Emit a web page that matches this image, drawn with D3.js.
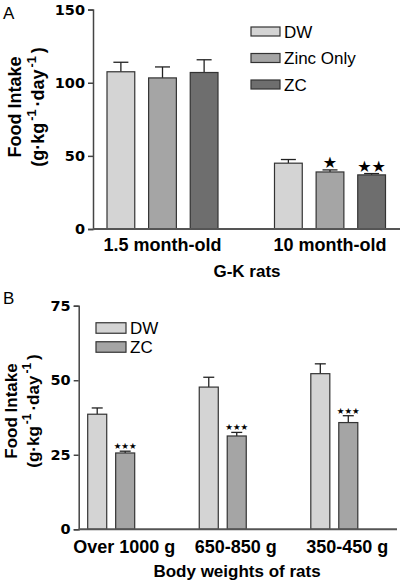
<!DOCTYPE html>
<html><head><meta charset="utf-8">
<script src="https://cdn.jsdelivr.net/npm/d3@7"></script>
<style>
body{margin:0;background:#fff;}
svg{display:block;}
text{font-family:"Liberation Sans",Arial,sans-serif;fill:#000;}
</style></head>
<body><svg id="c" width="401" height="582"></svg>
<script>
// ---------- Data: Panel A ----------
const groupsA = ["1.5 month-old", "10 month-old"];
const seriesA = ["DW", "Zinc Only", "ZC"];
const meanA = { "DW": [107.5, 45], "Zinc Only": [103.3, 39], "ZC": [107, 37] };
const errA  = { "DW": [6.5, 2.5], "Zinc Only": [7.5, 1.4], "ZC": [8.7, 0.9] };
const sigA  = { "DW": ["", ""], "Zinc Only": ["", "★"], "ZC": ["", "★★"] };
const ticksA = [0, 50, 100, 150];
const xTitleA = "G-K rats";

// ---------- Data: Panel B ----------
const groupsB = ["Over 1000 g", "650-850 g", "350-450 g"];
const seriesB = ["DW", "ZC"];
const meanB = { "DW": [38.6, 47.7, 52.2], "ZC": [25.6, 31.3, 35.8] };
const errB  = { "DW": [2.1, 3.3, 3.3], "ZC": [0.6, 1.2, 2.3] };
const sigB  = { "DW": ["", "", ""], "ZC": ["★★★", "★★★", "★★★"] };
const ticksB = [0, 25, 50, 75];
const xTitleB = "Body weights of rats";

const colA = { "DW": "#d4d4d4", "Zinc Only": "#a5a5a5", "ZC": "#6e6e6e" };
const colB = { "DW": "#d4d4d4", "ZC": "#a5a5a5" };

const svg = d3.select("#c");

function yTitle(g, cx, cy, size) {
  const t = g.append("text").attr("transform", `translate(${cx},${cy}) rotate(-90)`)
    .attr("text-anchor", "middle").style("font-weight", "bold").style("font-size", size + "px");
  t.append("tspan").attr("x", 0).attr("dy", 0).text("Food Intake");
  const t2 = t.append("tspan").attr("x", 0).attr("dy", size * 1.3);
  const ss = size * 0.7;
  t2.append("tspan").text("(g·kg");
  t2.append("tspan").attr("dx", 2).attr("dy", -size * 0.45).style("font-size", ss + "px").text("-1");
  t2.append("tspan").attr("dx", 3).attr("dy", size * 0.45).text("·day");
  t2.append("tspan").attr("dx", 2).attr("dy", -size * 0.45).style("font-size", ss + "px").text("-1");
  t2.append("tspan").attr("dx", 3).attr("dy", size * 0.45).text(")");
}

function panel(opt) {
  const g = svg.append("g");
  const y = d3.scaleLinear().domain(opt.ydom).range([opt.y0, opt.y1]);
  const x = d3.scalePoint().domain(opt.groups).range(opt.xr);
  const xi = d3.scaleBand().domain(opt.series).range([-opt.gw / 2, opt.gw / 2]).paddingInner(opt.pin).paddingOuter(0);

  // bars
  opt.series.forEach(s => {
    opt.groups.forEach((grp, i) => {
      const bx = x(grp) + xi(s), bw = xi.bandwidth();
      const v = opt.mean[s][i], e = opt.err[s][i];
      const cx = bx + bw / 2;
      g.append("line").attr("x1", cx).attr("x2", cx).attr("y1", y(v)).attr("y2", y(v + e))
        .attr("stroke", "#222").attr("stroke-width", 1.3);
      g.append("line").attr("x1", cx - opt.cap / 2).attr("x2", cx + opt.cap / 2).attr("y1", y(v + e)).attr("y2", y(v + e))
        .attr("stroke", "#222").attr("stroke-width", 1.3);
      g.append("rect").attr("x", bx).attr("y", y(v)).attr("width", bw).attr("height", y(0) - y(v))
        .attr("fill", opt.col[s]).attr("stroke", "#333").attr("stroke-width", 1.2);
      const sg = opt.sig[s][i];
      if (sg) {
        g.append("text").attr("x", cx).attr("y", y(v + e) - 2).attr("text-anchor", "middle")
          .style("font-family", "DejaVu Sans").style("font-size", opt.starSize + "px").text(sg);
      }
    });
  });

  // y axis
  const ya = g.append("g").attr("transform", `translate(${opt.xAxis},0)`)
    .call(d3.axisLeft(y).tickValues(opt.ticks).tickSize(5).tickPadding(3).tickFormat(d3.format("d")));
  ya.select(".domain").attr("stroke", "#444").attr("stroke-width", 1.5);
  ya.selectAll(".tick line").attr("stroke", "#444").attr("stroke-width", 1.5);
  ya.selectAll(".tick text").style("font-family", "DejaVu Sans").style("font-weight", "bold")
    .style("font-size", opt.tickSize + "px").attr("fill", "#000");

  // x axis line
  g.append("line").attr("x1", opt.xAxis).attr("x2", opt.xEnd).attr("y1", y(0)).attr("y2", y(0))
    .attr("stroke", "#555").attr("stroke-width", 2);

  // group labels
  opt.groups.forEach(grp => {
    g.append("text").attr("x", x(grp) + opt.labOff).attr("y", opt.labY).attr("text-anchor", "middle")
      .style("font-weight", "bold").style("font-size", "18px").text(grp);
  });
  g.append("text").attr("x", opt.titleX).attr("y", opt.titleY).attr("text-anchor", "middle")
    .style("font-weight", "bold").style("font-size", "17px").text(opt.xTitle);

  yTitle(g, opt.ytx, opt.yty, opt.ytSize);

  // legend
  opt.series.forEach((s, i) => {
    const ly = opt.legY + i * opt.legStep;
    g.append("rect").attr("x", opt.legX).attr("y", ly - opt.legH / 2).attr("width", opt.legW).attr("height", opt.legH)
      .attr("fill", opt.col[s]).attr("stroke", "#333").attr("stroke-width", 1.2);
    g.append("text").attr("x", opt.legX + opt.legW + 4).attr("y", ly + 6)
      .style("font-size", "17px").text(s);
  });

  g.append("text").attr("x", opt.letX).attr("y", opt.letY).style("font-size", "17px").text(opt.letter);
}

panel({
  groups: groupsA, series: seriesA, mean: meanA, err: errA, sig: sigA, col: colA,
  ydom: [0, 150], y0: 229, y1: 9.6, xr: [162.5, 330], gw: 111, pin: 0.333, cap: 15,
  ticks: ticksA, xAxis: 93, xEnd: 400, tickSize: 14.5, starSize: 16,
  labOff: 0, labY: 251, titleX: 247, titleY: 277, xTitle: xTitleA,
  ytx: 21, yty: 107, ytSize: 18,
  legX: 251, legY: 31.5, legStep: 26.5, legW: 29, legH: 9,
  letter: "A", letX: 3, letY: 19
});

panel({
  groups: groupsB, series: seriesB, mean: meanB, err: errB, sig: sigB, col: colB,
  ydom: [0, 75], y0: 529.3, y1: 305.7, xr: [111.2, 334.3], gw: 47, pin: 0.32, cap: 11,
  ticks: ticksB, xAxis: 78.7, xEnd: 397, tickSize: 14.5, starSize: 8.5,
  labOff: 13, labY: 553, titleX: 237, titleY: 577, xTitle: xTitleB,
  ytx: 17, yty: 411, ytSize: 17,
  legX: 96, legY: 328, legStep: 19, legW: 30, legH: 10.5,
  letter: "B", letX: 3, letY: 304
});
</script></body></html>
